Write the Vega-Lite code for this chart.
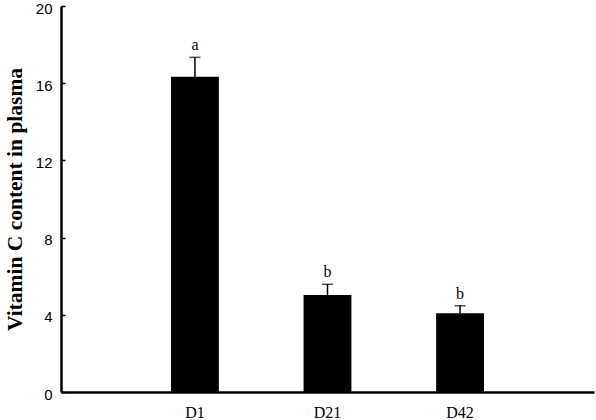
{
  "$schema": "https://vega.github.io/schema/vega-lite/v6.json",
  "width": 533,
  "height": 386,
  "autosize": "none",
  "padding": {"left": 61, "top": 6, "right": 2, "bottom": 28},
  "background": "white",
  "config": {"view": {"stroke": null}},
  "data": {"values": [
    {"day": "D1", "mean": 16.34, "upper": 17.34, "sig": "a"},
    {"day": "D21", "mean": 5.03, "upper": 5.58, "sig": "b"},
    {"day": "D42", "mean": 4.08, "upper": 4.47, "sig": "b"}
  ]},
  "encoding": {
    "x": {
      "field": "day", "type": "nominal", "sort": null,
      "scale": {"paddingInner": 0.639, "paddingOuter": 0.83},
      "axis": {"title": null, "labelAngle": 0, "ticks": false, "domainColor": "black", "domainWidth": 2.5,
               "labelFont": "Liberation Serif", "labelFontSize": 16, "labelColor": "black", "labelPadding": 12}
    }
  },
  "layer": [
    {
      "mark": {"type": "bar", "color": "black"},
      "encoding": {
        "y": {"field": "mean", "type": "quantitative",
              "scale": {"domain": [0, 20], "nice": false},
              "axis": {"values": [0, 4, 8, 12, 16, 20], "grid": false, "domainColor": "black", "domainWidth": 2.5,
                       "tickColor": "black", "tickSize": -4, "tickWidth": 1.5,
                       "labelFont": "Liberation Sans", "labelFontSize": 15, "labelColor": "black", "labelPadding": 13,
                       "labelOffset": 2,
                       "title": "Vitamin C content in plasma", "titleFont": "Liberation Serif", "titleFontSize": 21.5,
                       "titleFontWeight": "bold", "titleColor": "black", "titlePadding": 9}}
      }
    },
    {
      "mark": {"type": "rule", "color": "black", "strokeWidth": 1.5},
      "encoding": {"y": {"field": "mean", "type": "quantitative"}, "y2": {"field": "upper"}}
    },
    {
      "mark": {"type": "tick", "color": "black", "thickness": 1.5, "size": 11, "orient": "horizontal"},
      "encoding": {"y": {"field": "upper", "type": "quantitative"}}
    },
    {
      "mark": {"type": "text", "font": "Liberation Serif", "fontSize": 16, "fill": "black", "baseline": "bottom", "dy": -4},
      "encoding": {"y": {"field": "upper", "type": "quantitative"}, "text": {"field": "sig"}}
    }
  ]
}
